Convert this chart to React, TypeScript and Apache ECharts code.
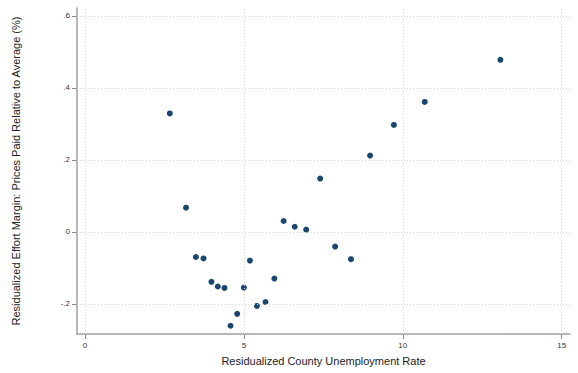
import React, { useEffect, useRef } from "react";
import * as echarts from "echarts";

// Binned county observations: residualized unemployment rate vs. effort margin
const unemploymentRate = [
  2.67, 3.18, 3.49, 3.73, 3.98, 4.18, 4.39, 4.58, 4.79, 5.0, 5.19, 5.41,
  5.68, 5.96, 6.25, 6.6, 6.96, 7.4, 7.87, 8.37, 8.97, 9.72, 10.69, 13.07,
];
const effortMargin = [
  0.329, 0.067, -0.07, -0.074, -0.139, -0.152, -0.156, -0.261, -0.228, -0.155,
  -0.08, -0.206, -0.195, -0.13, 0.03, 0.014, 0.006, 0.148, -0.041, -0.076,
  0.212, 0.297, 0.361, 0.478,
];

const xTicks = [0, 5, 10, 15];
const yTicks = [-0.2, 0, 0.2, 0.4, 0.6];

const xTitle = "Residualized County Unemployment Rate";
const yTitle = "Residualized Effort Margin: Prices Paid Relative to Average (%)";

const fmtY = (v: number) => {
  if (Math.abs(v) < 1e-9) return "0";
  const s = (Math.round(v * 10) / 10).toString();
  return s.replace(/^(-?)0\./, "$1.");
};

export default function App() {
  const ref = useRef<HTMLDivElement>(null);

  useEffect(() => {
    if (!ref.current) return;
    const chart = echarts.init(ref.current, null, { renderer: "svg" });
    const font = "Liberation Sans, Arial, sans-serif";
    const axisLineStyle = { color: "#a0a0a0", width: 1.5 };
    const tickStyle = { color: "#8c8c8c", width: 1 };
    const gridLine = { color: "#d4d4d4", width: 1, type: [1, 2] as any };

    chart.setOption({
      animation: false,
      backgroundColor: "#ffffff",
      grid: { left: 77, right: 8, top: 8, bottom: 39, containLabel: false },
      xAxis: {
        type: "value",
        min: -0.25,
        max: 15.26,
        name: xTitle,
        nameLocation: "middle",
        nameGap: 21,
        nameTextStyle: { fontFamily: font, fontSize: 11, color: "#222" },
        axisLine: { show: true, onZero: false, lineStyle: axisLineStyle },
        axisTick: {
          show: true,
          length: 5,
          customValues: xTicks,
          lineStyle: tickStyle,
        },
        axisLabel: {
          customValues: xTicks,
          fontFamily: font,
          fontSize: 8,
          color: "#333",
          margin: 7,
          formatter: (v: number) => String(v),
        },
        splitLine: { show: false },
      },
      yAxis: {
        type: "value",
        min: -0.284,
        max: 0.622,
        name: yTitle,
        nameLocation: "middle",
        nameGap: 56,
        nameTextStyle: { fontFamily: font, fontSize: 11, color: "#222" },
        axisLine: { show: true, onZero: false, lineStyle: axisLineStyle },
        axisTick: {
          show: true,
          length: 5,
          customValues: yTicks,
          lineStyle: tickStyle,
        },
        axisLabel: {
          customValues: yTicks,
          fontFamily: font,
          fontSize: 8,
          color: "#333",
          margin: 7,
          formatter: (v: number) => fmtY(v),
        },
        splitLine: { show: false },
      },
      series: [
        {
          // dotted reference grid at each tick value
          type: "scatter",
          data: [],
          z: 1,
          silent: true,
          markLine: {
            silent: true,
            symbol: ["none", "none"],
            label: { show: false },
            lineStyle: gridLine,
            emphasis: { disabled: true },
            data: [
              ...yTicks.map((v) => ({ yAxis: v })),
              ...xTicks.map((v) => ({ xAxis: v })),
            ],
          },
        },
        {
          type: "scatter",
          z: 3,
          symbol: "circle",
          symbolSize: 6,
          itemStyle: { color: "#1a476f", opacity: 1 },
          data: unemploymentRate.map((x, i) => [x, effortMargin[i]]),
        },
      ],
    });

    return () => chart.dispose();
  }, []);

  return (
    <div
      ref={ref}
      style={{ position: "fixed", left: 0, top: 0, width: 578, height: 373 }}
    />
  );
}
